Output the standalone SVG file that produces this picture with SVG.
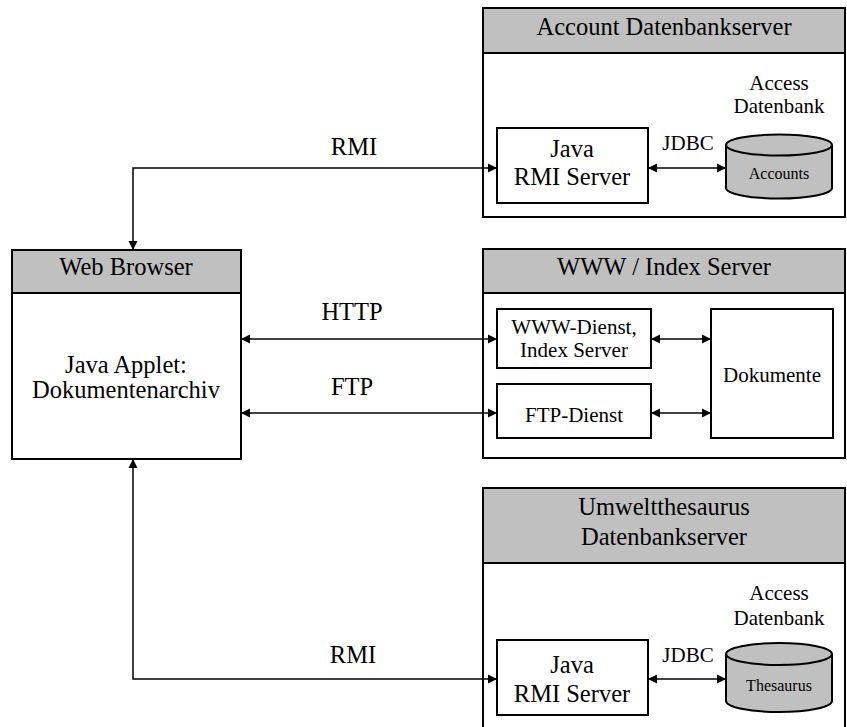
<svg xmlns="http://www.w3.org/2000/svg" width="847" height="727" viewBox="0 0 847 727">
<style>
text{font-family:"Liberation Serif","Times New Roman",serif;fill:#000;text-anchor:middle}
.big{font-size:24.5px}
.mid{font-size:21px}
.sm{font-size:16px}
.outer{fill:#fff;stroke:#000;stroke-width:2}
.hdr{fill:#c0c0c0;stroke:#000;stroke-width:2}
.inner{fill:#fff;stroke:#000;stroke-width:2}
.cyl{fill:#c0c0c0;stroke:#000;stroke-width:2}
.con{fill:none;stroke:#000;stroke-width:1.5}
</style>
<defs>
<marker id="ah" viewBox="0 0 10 10" refX="10" refY="5" markerWidth="9" markerHeight="10" markerUnits="userSpaceOnUse" orient="auto-start-reverse">
<path d="M0,0 L10,5 L0,10 z" fill="#000"/>
</marker>
</defs>
<rect width="847" height="727" fill="#fff"/>

<g id="account-server">
<rect class="outer" x="483" y="8" width="362" height="209"/>
<rect class="hdr" x="483" y="8" width="362" height="45"/>
<text class="big" x="664" y="35">Account Datenbankserver</text>
<text class="mid" x="779" y="90">Access</text>
<text class="mid" x="779" y="113">Datenbank</text>
</g>
<g id="account-rmi">
<rect class="inner" x="497" y="128" width="151" height="75"/>
<text class="big" x="572" y="157">Java</text>
<text class="big" x="572" y="185">RMI Server</text>
</g>
<g id="account-db">
<path class="cyl" d="M726,145 V188 A53,10.5 0 0 0 832,188 V145"/>
<ellipse class="cyl" cx="779" cy="145" rx="53" ry="10.5"/>
<text class="sm" x="779" y="179">Accounts</text>
</g>

<g id="web-browser">
<rect class="outer" x="12" y="250" width="229" height="209"/>
<rect class="hdr" x="12" y="250" width="229" height="43"/>
<text class="big" x="126" y="275">Web Browser</text>
<text class="big" x="126" y="373">Java Applet:</text>
<text class="big" x="126" y="398">Dokumentenarchiv</text>
</g>

<g id="www-server">
<rect class="outer" x="483" y="249" width="362" height="209"/>
<rect class="hdr" x="483" y="249" width="362" height="44"/>
<text class="big" x="664" y="275">WWW / Index Server</text>
</g>
<g id="www-dienst">
<rect class="inner" x="497" y="309" width="154" height="59"/>
<text class="mid" x="574" y="334">WWW-Dienst,</text>
<text class="mid" x="574" y="357">Index Server</text>
</g>
<g id="ftp-dienst">
<rect class="inner" x="497" y="384" width="154" height="54"/>
<text class="mid" x="574" y="422">FTP-Dienst</text>
</g>
<g id="dokumente">
<rect class="inner" x="711" y="309" width="122" height="129"/>
<text class="mid" x="772" y="382">Dokumente</text>
</g>

<g id="thesaurus-server">
<rect class="outer" x="483" y="488" width="362" height="260"/>
<rect class="hdr" x="483" y="488" width="362" height="75"/>
<text class="big" x="664" y="515">Umweltthesaurus</text>
<text class="big" x="664" y="545">Datenbankserver</text>
<text class="mid" x="779" y="600">Access</text>
<text class="mid" x="779" y="625">Datenbank</text>
</g>
<g id="thesaurus-rmi">
<rect class="inner" x="497" y="640" width="151" height="75"/>
<text class="big" x="572" y="673">Java</text>
<text class="big" x="572" y="702">RMI Server</text>
</g>
<g id="thesaurus-db">
<path class="cyl" d="M726,654 V701 A53,11 0 0 0 832,701 V654"/>
<ellipse class="cyl" cx="779" cy="654" rx="53" ry="11"/>
<text class="sm" x="779" y="691">Thesaurus</text>
</g>

<g id="connectors">
<path class="con" d="M497,168 H133 V250" marker-start="url(#ah)" marker-end="url(#ah)"/>
<path class="con" d="M241,339 H497" marker-start="url(#ah)" marker-end="url(#ah)"/>
<path class="con" d="M241,413 H497" marker-start="url(#ah)" marker-end="url(#ah)"/>
<path class="con" d="M133,459 V679 H497" marker-start="url(#ah)" marker-end="url(#ah)"/>
<path class="con" d="M648,168 H726" marker-start="url(#ah)" marker-end="url(#ah)"/>
<path class="con" d="M648,679 H726" marker-start="url(#ah)" marker-end="url(#ah)"/>
<path class="con" d="M651,339 H711" marker-start="url(#ah)" marker-end="url(#ah)"/>
<path class="con" d="M651,413 H711" marker-start="url(#ah)" marker-end="url(#ah)"/>
<text class="big" x="354" y="155">RMI</text>
<text class="big" x="352" y="320">HTTP</text>
<text class="big" x="352" y="395">FTP</text>
<text class="big" x="353" y="663">RMI</text>
<text class="mid" x="688" y="150">JDBC</text>
<text class="mid" x="688" y="662">JDBC</text>
</g>
</svg>
